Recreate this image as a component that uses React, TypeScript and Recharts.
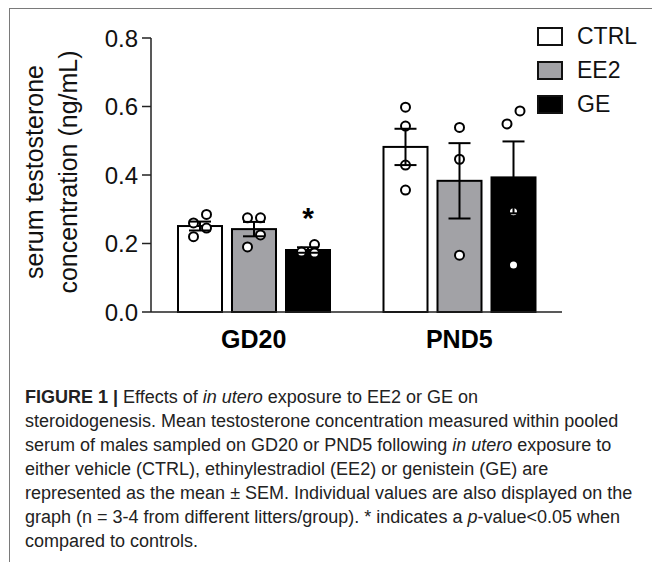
import { Bar, BarChart, ErrorBar, LabelList, Legend, XAxis, YAxis } from "recharts";

const categories = ["GD20", "PND5"];
const seriesNames = ["CTRL", "EE2", "GE"];

const ctrlMean = [0.251, 0.482];
const ee2Mean = [0.242, 0.383];
const geMean = [0.181, 0.393];

const ctrlSem = [0.013, 0.053];
const ee2Sem = [0.021, 0.11];
const geSem = [0.008, 0.105];

const ctrlPoints = [
  [0.285, 0.26, 0.245, 0.22],
  [0.598, 0.543, 0.429, 0.356],
];
const ee2Points = [
  [0.275, 0.275, 0.225, 0.19],
  [0.539, 0.446, 0.166],
];
const gePoints = [
  [0.197, 0.175, 0.172],
  [0.587, 0.549, 0.293, 0.137],
];

const geSignificance = ["*", ""];
const yTicks = [0, 0.2, 0.4, 0.6, 0.8];

const fills: Record<string, string> = { CTRL: "#ffffff", EE2: "#a2a2a6", GE: "#000000" };
const font = "'Liberation Sans', Arial, Helvetica, sans-serif";

const data = categories.map((stage, i) => ({
  stage,
  CTRL: ctrlMean[i],
  EE2: ee2Mean[i],
  GE: geMean[i],
  ctrlSem: ctrlSem[i],
  ee2Sem: ee2Sem[i],
  geSem: geSem[i],
  ctrlPoints: ctrlPoints[i],
  ee2Points: ee2Points[i],
  gePoints: gePoints[i],
  geSig: geSignificance[i],
}));

// spreads overlapping dots sideways, like the prism scatter on bars
function placeDots(cx: number, ys: number[]) {
  const sorted = [...ys].sort((a, b) => a - b);
  const out: { cx: number; cy: number }[] = [];
  let cluster: number[] = [];
  const flush = () => {
    cluster.forEach((cy, i) =>
      out.push({ cx: cluster.length === 1 ? cx : cx + (i % 2 === 0 ? 6.5 : -6.5), cy })
    );
    cluster = [];
  };
  sorted.forEach((cy) => {
    if (cluster.length && cy - cluster[cluster.length - 1] >= 18) flush();
    cluster.push(cy);
  });
  flush();
  return out;
}

function BarWithDots(props: any) {
  const { x, y, width, height, fill, payload, meanKey, pointsKey } = props;
  const mean = payload[meanKey];
  const base = y + height;
  const perUnit = height / mean;
  const ys = (payload[pointsKey] as number[]).map((v) => base - v * perUnit);
  const dots = placeDots(x + width / 2, ys);
  return (
    <g>
      <rect x={x} y={y} width={width} height={height} fill={fill} stroke="#000" strokeWidth={2} />
      {dots.map((d, i) => (
        <circle key={i} cx={d.cx} cy={d.cy} r={4.5} fill="#fff" stroke="#000" strokeWidth={2} />
      ))}
    </g>
  );
}

function AsteriskLabel(props: any) {
  const { x, y, width, value } = props;
  if (!value) return null;
  return (
    <text x={x + width / 2} y={y - 22} textAnchor="middle" fontSize={30} fontWeight={700} fill="#000" fontFamily={font}>
      {value}
    </text>
  );
}

function YLabel(props: any) {
  const { viewBox } = props;
  const cy = viewBox.y + viewBox.height / 2 - 3;
  return (
    <g fontFamily={font} fontSize={25} fill="#111" textAnchor="middle">
      <text x={43} y={cy} transform={`rotate(-90 43 ${cy})`}>serum testosterone</text>
      <text x={77} y={cy} transform={`rotate(-90 77 ${cy})`}>concentration (ng/mL)</text>
    </g>
  );
}

function LegendBox({ payload }: any) {
  return (
    <div style={{ fontFamily: font }}>
      {(payload ?? []).map((item: any) => (
        <div key={item.value} style={{ display: "flex", alignItems: "center", height: 34 }}>
          <span
            style={{
              display: "inline-block",
              width: 22,
              height: 15,
              border: "2px solid #111",
              background: fills[item.value],
            }}
          />
          <span style={{ marginLeft: 14, fontSize: 23, color: "#111" }}>{item.value}</span>
        </div>
      ))}
    </div>
  );
}

export default function App() {
  return (
    <div style={{ position: "relative", width: 652, height: 562, overflow: "hidden", background: "#fff" }}>
      <style>{`body{margin:0;overflow:hidden}`}</style>
      <div
        style={{
          position: "absolute",
          left: 9,
          top: 8,
          right: -4,
          bottom: -4,
          borderTop: "1.5px solid #7a7a7a",
          borderLeft: "1.5px solid #7a7a7a",
        }}
      />
      <div style={{ position: "absolute", left: 0, top: 0 }}>
        <BarChart
          width={652}
          height={370}
          data={data}
          margin={{ top: 38, right: 90, bottom: 18, left: 91 }}
          barSize={44}
          barGap={10}
        >
          <XAxis
            dataKey="stage"
            height={40}
            tickLine={false}
            axisLine={{ stroke: "#222", strokeWidth: 1.5 }}
            tickMargin={12}
            tick={{ fontSize: 25, fontWeight: 700, fill: "#000", fontFamily: font }}
          />
          <YAxis
            width={60}
            domain={[0, 0.8]}
            ticks={yTicks}
            tickFormatter={(v: number) => v.toFixed(1)}
            tickSize={9}
            tickMargin={4}
            axisLine={{ stroke: "#222", strokeWidth: 1.5 }}
            tickLine={{ stroke: "#222", strokeWidth: 1.5 }}
            tick={{ fontSize: 24, fill: "#111", fontFamily: font }}
            label={{ content: YLabel }}
          />
          <Legend
            layout="vertical"
            align="center"
            verticalAlign="middle"
            content={LegendBox}
            wrapperStyle={{ left: 537, top: 19, width: 110 }}
          />
          <Bar
            dataKey="CTRL"
            name={seriesNames[0]}
            fill={fills.CTRL}
            isAnimationActive={false}
            shape={(p: any) => <BarWithDots {...p} meanKey="CTRL" pointsKey="ctrlPoints" />}
          >
            <ErrorBar dataKey="ctrlSem" width={11} strokeWidth={2} stroke="#000" direction="y" />
          </Bar>
          <Bar
            dataKey="EE2"
            name={seriesNames[1]}
            fill={fills.EE2}
            isAnimationActive={false}
            shape={(p: any) => <BarWithDots {...p} meanKey="EE2" pointsKey="ee2Points" />}
          >
            <ErrorBar dataKey="ee2Sem" width={11} strokeWidth={2} stroke="#000" direction="y" />
          </Bar>
          <Bar
            dataKey="GE"
            name={seriesNames[2]}
            fill={fills.GE}
            isAnimationActive={false}
            shape={(p: any) => <BarWithDots {...p} meanKey="GE" pointsKey="gePoints" />}
          >
            <ErrorBar dataKey="geSem" width={11} strokeWidth={2} stroke="#000" direction="y" />
            <LabelList dataKey="geSig" content={AsteriskLabel} />
          </Bar>
        </BarChart>
      </div>
      <div
        style={{
          position: "absolute",
          left: 25,
          top: 385,
          fontFamily: font,
          fontSize: 18,
          lineHeight: "24px",
          color: "#222",
          whiteSpace: "nowrap",
        }}
      >
        <div>
          <b>FIGURE 1 |</b> Effects of <i>in utero</i> exposure to EE2 or GE on
        </div>
        <div>steroidogenesis. Mean testosterone concentration measured within pooled</div>
        <div>
          serum of males sampled on GD20 or PND5 following <i>in utero</i> exposure to
        </div>
        <div>either vehicle (CTRL), ethinylestradiol (EE2) or genistein (GE) are</div>
        <div>represented as the mean ± SEM. Individual values are also displayed on the</div>
        <div>
          graph (n = 3-4 from different litters/group). * indicates a <i>p</i>-value&lt;0.05 when
        </div>
        <div>compared to controls.</div>
      </div>
    </div>
  );
}
